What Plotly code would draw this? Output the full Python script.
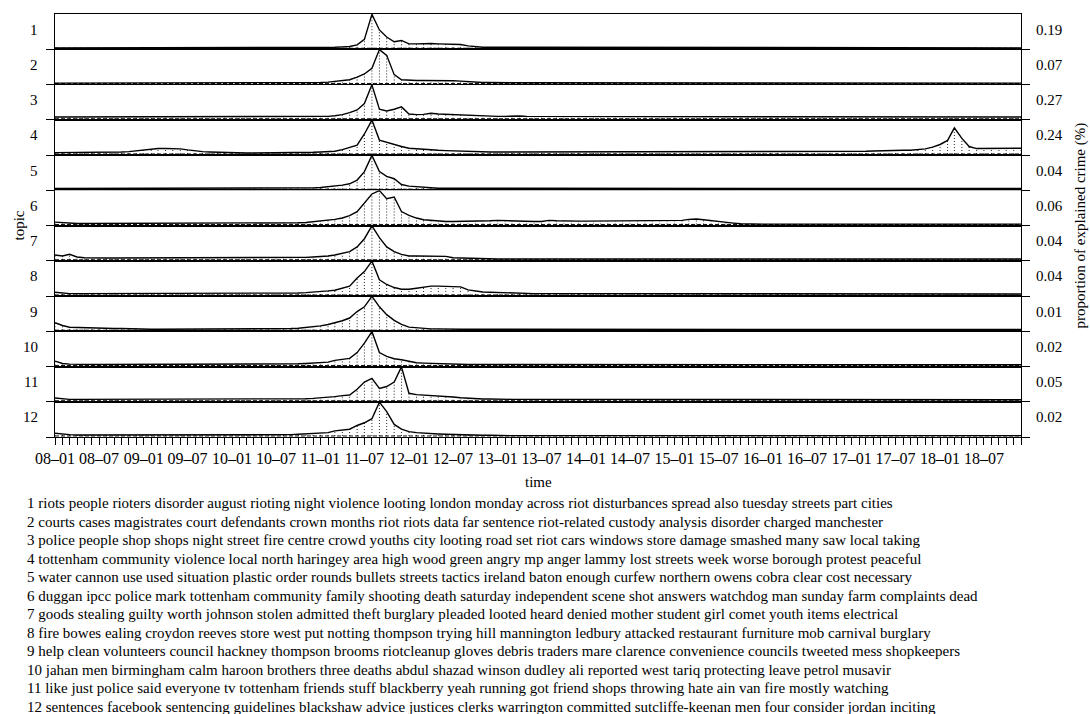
import plotly.graph_objects as go
from plotly.subplots import make_subplots

# ---------------- data ----------------
# monthly observations, Jan 2008 .. Dec 2018 (one row of 12 per year)
MONTHS = [f"{y}-{m:02d}-01" for y in range(2008, 2019) for m in range(1, 13)]

TICK_LABELS = ["08\u201301", "08\u201307", "09\u201301", "09\u201307", "10\u201301", "10\u201307",
               "11\u201301", "11\u201307", "12\u201301", "12\u201307", "13\u201301", "13\u201307",
               "14\u201301", "14\u201307", "15\u201301", "15\u201307", "16\u201301", "16\u201307",
               "17\u201301", "17\u201307", "18\u201301", "18\u201307"]
TICK_DATES = ["2008-01-01", "2008-07-01", "2009-01-01", "2009-07-01", "2010-01-01", "2010-07-01",
              "2011-01-01", "2011-07-01", "2012-01-01", "2012-07-01", "2013-01-01", "2013-07-01",
              "2014-01-01", "2014-07-01", "2015-01-01", "2015-07-01", "2016-01-01", "2016-07-01",
              "2017-01-01", "2017-07-01", "2018-01-01", "2018-07-01"]

TOPICS = ["1", "2", "3", "4", "5", "6", "7", "8", "9", "10", "11", "12"]
PROPORTIONS = ["0.19", "0.07", "0.27", "0.24", "0.04", "0.06", "0.04", "0.04", "0.01", "0.02", "0.05", "0.02"]

topic1 = [
    0.01, 0.01, 0.01, 0.01, 0.01, 0.01, 0.01, 0.01, 0.01, 0.01, 0.01, 0.01,
    0.01, 0.01, 0.01, 0.01, 0.01, 0.01, 0.01, 0.01, 0.01, 0.01, 0.01, 0.01,
    0.01, 0.01, 0.01, 0.01, 0.01, 0.01, 0.01, 0.01, 0.01, 0.02, 0.02, 0.02,
    0.03, 0.03, 0.03, 0.04, 0.05, 0.10, 0.26, 1.00, 0.54, 0.33, 0.19, 0.23,
    0.13, 0.13, 0.14, 0.14, 0.13, 0.12, 0.11, 0.11, 0.07, 0.04, 0.03, 0.03,
    0.03, 0.03, 0.03, 0.03, 0.03, 0.03, 0.03, 0.03, 0.02, 0.02, 0.02, 0.02,
    0.02, 0.02, 0.02, 0.02, 0.02, 0.02, 0.02, 0.02, 0.02, 0.02, 0.02, 0.02,
    0.02, 0.02, 0.02, 0.02, 0.02, 0.02, 0.02, 0.02, 0.02, 0.02, 0.02, 0.02,
    0.01, 0.01, 0.01, 0.01, 0.01, 0.01, 0.01, 0.01, 0.01, 0.01, 0.01, 0.01,
    0.01, 0.01, 0.01, 0.01, 0.01, 0.01, 0.01, 0.01, 0.01, 0.01, 0.01, 0.01,
    0.01, 0.01, 0.01, 0.01, 0.01, 0.01, 0.01, 0.01, 0.01, 0.01, 0.01, 0.01,
]
topic2 = [
    0.01, 0.01, 0.01, 0.01, 0.01, 0.01, 0.01, 0.01, 0.01, 0.01, 0.01, 0.01,
    0.01, 0.01, 0.01, 0.01, 0.01, 0.01, 0.01, 0.01, 0.01, 0.01, 0.01, 0.01,
    0.01, 0.01, 0.01, 0.01, 0.01, 0.01, 0.01, 0.01, 0.01, 0.01, 0.01, 0.02,
    0.03, 0.04, 0.06, 0.08, 0.11, 0.19, 0.28, 0.45, 1.00, 0.83, 0.26, 0.11,
    0.09, 0.09, 0.09, 0.09, 0.10, 0.09, 0.08, 0.07, 0.05, 0.04, 0.03, 0.03,
    0.02, 0.02, 0.02, 0.02, 0.02, 0.02, 0.02, 0.02, 0.02, 0.02, 0.02, 0.02,
    0.01, 0.01, 0.01, 0.01, 0.01, 0.01, 0.01, 0.01, 0.01, 0.01, 0.01, 0.01,
    0.01, 0.01, 0.01, 0.01, 0.01, 0.01, 0.01, 0.01, 0.01, 0.01, 0.01, 0.01,
    0.01, 0.01, 0.01, 0.01, 0.01, 0.01, 0.01, 0.01, 0.01, 0.01, 0.01, 0.01,
    0.01, 0.01, 0.01, 0.01, 0.01, 0.01, 0.01, 0.01, 0.01, 0.01, 0.01, 0.01,
    0.01, 0.01, 0.01, 0.01, 0.01, 0.01, 0.01, 0.01, 0.01, 0.01, 0.01, 0.01,
]
topic3 = [
    0.05, 0.05, 0.05, 0.05, 0.06, 0.06, 0.06, 0.05, 0.05, 0.05, 0.05, 0.05,
    0.05, 0.05, 0.05, 0.05, 0.05, 0.05, 0.05, 0.05, 0.05, 0.05, 0.05, 0.05,
    0.05, 0.05, 0.05, 0.05, 0.05, 0.05, 0.05, 0.05, 0.05, 0.05, 0.06, 0.06,
    0.06, 0.07, 0.09, 0.12, 0.18, 0.26, 0.45, 1.00, 0.28, 0.23, 0.28, 0.35,
    0.14, 0.12, 0.13, 0.16, 0.14, 0.13, 0.13, 0.11, 0.10, 0.08, 0.07, 0.07,
    0.07, 0.07, 0.08, 0.08, 0.07, 0.07, 0.07, 0.07, 0.06, 0.06, 0.06, 0.06,
    0.06, 0.06, 0.06, 0.06, 0.06, 0.07, 0.07, 0.07, 0.06, 0.06, 0.06, 0.06,
    0.06, 0.06, 0.06, 0.06, 0.06, 0.06, 0.06, 0.06, 0.06, 0.06, 0.06, 0.06,
    0.06, 0.06, 0.06, 0.06, 0.06, 0.06, 0.06, 0.06, 0.07, 0.07, 0.06, 0.06,
    0.06, 0.06, 0.06, 0.06, 0.06, 0.06, 0.06, 0.06, 0.06, 0.06, 0.06, 0.06,
    0.06, 0.06, 0.06, 0.06, 0.06, 0.06, 0.05, 0.05, 0.05, 0.05, 0.05, 0.05,
]
topic4 = [
    0.04, 0.04, 0.04, 0.04, 0.04, 0.04, 0.04, 0.04, 0.05, 0.06, 0.07, 0.09,
    0.12, 0.15, 0.16, 0.16, 0.16, 0.15, 0.12, 0.09, 0.07, 0.06, 0.05, 0.04,
    0.04, 0.03, 0.03, 0.03, 0.03, 0.03, 0.03, 0.03, 0.04, 0.04, 0.05, 0.05,
    0.06, 0.07, 0.08, 0.13, 0.19, 0.26, 0.59, 1.00, 0.41, 0.34, 0.29, 0.22,
    0.17, 0.15, 0.14, 0.12, 0.11, 0.10, 0.09, 0.08, 0.07, 0.06, 0.06, 0.06,
    0.06, 0.06, 0.06, 0.07, 0.07, 0.07, 0.07, 0.07, 0.06, 0.06, 0.06, 0.06,
    0.06, 0.06, 0.06, 0.06, 0.06, 0.06, 0.06, 0.06, 0.06, 0.06, 0.06, 0.06,
    0.06, 0.06, 0.06, 0.06, 0.06, 0.06, 0.06, 0.06, 0.07, 0.07, 0.07, 0.07,
    0.07, 0.07, 0.07, 0.07, 0.07, 0.07, 0.06, 0.06, 0.06, 0.06, 0.07, 0.07,
    0.07, 0.07, 0.08, 0.09, 0.10, 0.10, 0.10, 0.11, 0.11, 0.12, 0.15, 0.20,
    0.28, 0.40, 0.77, 0.46, 0.22, 0.16, 0.16, 0.16, 0.16, 0.16, 0.16, 0.17,
]
topic5 = [
    0.02, 0.02, 0.02, 0.02, 0.02, 0.02, 0.02, 0.02, 0.02, 0.02, 0.02, 0.02,
    0.02, 0.02, 0.02, 0.02, 0.02, 0.02, 0.02, 0.02, 0.02, 0.02, 0.02, 0.02,
    0.02, 0.02, 0.02, 0.02, 0.02, 0.02, 0.02, 0.02, 0.02, 0.02, 0.03, 0.04,
    0.05, 0.07, 0.09, 0.12, 0.16, 0.27, 0.52, 1.00, 0.52, 0.38, 0.31, 0.14,
    0.09, 0.07, 0.05, 0.04, 0.03, 0.03, 0.03, 0.03, 0.03, 0.02, 0.02, 0.02,
    0.02, 0.02, 0.02, 0.02, 0.02, 0.02, 0.02, 0.02, 0.02, 0.02, 0.02, 0.02,
    0.02, 0.02, 0.02, 0.02, 0.02, 0.02, 0.02, 0.02, 0.02, 0.02, 0.02, 0.02,
    0.02, 0.02, 0.02, 0.02, 0.02, 0.02, 0.02, 0.02, 0.02, 0.02, 0.02, 0.02,
    0.02, 0.02, 0.02, 0.02, 0.02, 0.02, 0.02, 0.02, 0.02, 0.02, 0.02, 0.02,
    0.02, 0.02, 0.02, 0.02, 0.02, 0.02, 0.02, 0.02, 0.02, 0.02, 0.02, 0.02,
    0.02, 0.02, 0.02, 0.02, 0.02, 0.02, 0.02, 0.02, 0.02, 0.02, 0.02, 0.02,
]
topic6 = [
    0.07, 0.05, 0.04, 0.03, 0.03, 0.03, 0.03, 0.03, 0.03, 0.03, 0.03, 0.03,
    0.03, 0.03, 0.03, 0.03, 0.03, 0.03, 0.03, 0.03, 0.03, 0.03, 0.03, 0.03,
    0.03, 0.03, 0.03, 0.03, 0.03, 0.03, 0.03, 0.03, 0.04, 0.05, 0.06, 0.08,
    0.10, 0.12, 0.15, 0.19, 0.26, 0.38, 0.62, 0.90, 1.00, 0.76, 0.81, 0.38,
    0.27, 0.19, 0.14, 0.12, 0.10, 0.09, 0.09, 0.09, 0.09, 0.10, 0.10, 0.11,
    0.12, 0.11, 0.10, 0.09, 0.09, 0.09, 0.09, 0.12, 0.11, 0.10, 0.10, 0.10,
    0.10, 0.10, 0.10, 0.10, 0.10, 0.10, 0.10, 0.10, 0.10, 0.10, 0.10, 0.10,
    0.10, 0.12, 0.15, 0.16, 0.14, 0.11, 0.09, 0.06, 0.04, 0.02, 0.01, 0.01,
    0.01, 0.01, 0.01, 0.01, 0.01, 0.01, 0.01, 0.01, 0.01, 0.01, 0.01, 0.01,
    0.01, 0.01, 0.01, 0.01, 0.01, 0.01, 0.01, 0.01, 0.01, 0.01, 0.01, 0.01,
    0.01, 0.01, 0.01, 0.01, 0.01, 0.01, 0.01, 0.01, 0.01, 0.01, 0.01, 0.01,
]
topic7 = [
    0.14, 0.11, 0.16, 0.08, 0.06, 0.05, 0.05, 0.05, 0.05, 0.05, 0.05, 0.05,
    0.05, 0.05, 0.05, 0.05, 0.05, 0.05, 0.05, 0.05, 0.05, 0.05, 0.05, 0.05,
    0.05, 0.05, 0.05, 0.05, 0.05, 0.05, 0.05, 0.05, 0.05, 0.06, 0.07, 0.08,
    0.09, 0.11, 0.14, 0.18, 0.24, 0.38, 0.62, 1.00, 0.65, 0.38, 0.24, 0.16,
    0.11, 0.11, 0.11, 0.11, 0.10, 0.10, 0.06, 0.05, 0.04, 0.03, 0.03, 0.03,
    0.02, 0.02, 0.02, 0.02, 0.02, 0.02, 0.02, 0.02, 0.02, 0.02, 0.02, 0.02,
    0.02, 0.02, 0.02, 0.02, 0.02, 0.02, 0.02, 0.02, 0.02, 0.02, 0.02, 0.02,
    0.02, 0.02, 0.02, 0.02, 0.02, 0.02, 0.02, 0.02, 0.02, 0.02, 0.02, 0.02,
    0.02, 0.02, 0.02, 0.02, 0.02, 0.02, 0.02, 0.02, 0.02, 0.02, 0.02, 0.02,
    0.02, 0.02, 0.02, 0.02, 0.02, 0.02, 0.02, 0.02, 0.02, 0.02, 0.02, 0.02,
    0.02, 0.02, 0.02, 0.02, 0.02, 0.02, 0.02, 0.02, 0.02, 0.02, 0.02, 0.02,
]
topic8 = [
    0.08, 0.05, 0.04, 0.04, 0.04, 0.04, 0.04, 0.04, 0.04, 0.04, 0.04, 0.04,
    0.04, 0.04, 0.04, 0.04, 0.04, 0.04, 0.04, 0.04, 0.04, 0.04, 0.04, 0.04,
    0.04, 0.04, 0.04, 0.04, 0.04, 0.04, 0.04, 0.05, 0.05, 0.06, 0.07, 0.08,
    0.09, 0.12, 0.14, 0.19, 0.26, 0.50, 0.69, 1.00, 0.45, 0.31, 0.22, 0.17,
    0.17, 0.20, 0.24, 0.26, 0.26, 0.26, 0.24, 0.24, 0.15, 0.11, 0.09, 0.08,
    0.07, 0.06, 0.05, 0.05, 0.05, 0.04, 0.04, 0.04, 0.04, 0.04, 0.04, 0.04,
    0.03, 0.03, 0.03, 0.03, 0.03, 0.03, 0.03, 0.03, 0.03, 0.03, 0.03, 0.03,
    0.03, 0.03, 0.03, 0.03, 0.03, 0.03, 0.03, 0.03, 0.03, 0.03, 0.03, 0.03,
    0.03, 0.03, 0.03, 0.03, 0.03, 0.03, 0.03, 0.03, 0.03, 0.03, 0.03, 0.03,
    0.03, 0.03, 0.03, 0.03, 0.03, 0.03, 0.03, 0.03, 0.03, 0.03, 0.03, 0.03,
    0.03, 0.03, 0.03, 0.03, 0.03, 0.03, 0.03, 0.03, 0.03, 0.03, 0.03, 0.03,
]
topic9 = [
    0.22, 0.14, 0.09, 0.08, 0.07, 0.06, 0.06, 0.05, 0.05, 0.05, 0.04, 0.04,
    0.04, 0.03, 0.03, 0.03, 0.03, 0.03, 0.03, 0.03, 0.03, 0.03, 0.03, 0.03,
    0.03, 0.03, 0.03, 0.03, 0.03, 0.03, 0.03, 0.04, 0.05, 0.06, 0.08, 0.10,
    0.13, 0.17, 0.22, 0.28, 0.36, 0.55, 0.69, 1.00, 0.69, 0.46, 0.29, 0.17,
    0.09, 0.07, 0.05, 0.04, 0.04, 0.03, 0.03, 0.03, 0.03, 0.03, 0.03, 0.03,
    0.02, 0.02, 0.02, 0.02, 0.02, 0.02, 0.02, 0.02, 0.02, 0.02, 0.02, 0.02,
    0.02, 0.02, 0.02, 0.02, 0.02, 0.02, 0.02, 0.02, 0.02, 0.02, 0.02, 0.02,
    0.02, 0.02, 0.02, 0.02, 0.02, 0.02, 0.02, 0.02, 0.02, 0.02, 0.02, 0.02,
    0.02, 0.02, 0.02, 0.02, 0.02, 0.02, 0.02, 0.02, 0.02, 0.02, 0.02, 0.02,
    0.02, 0.02, 0.02, 0.02, 0.02, 0.02, 0.02, 0.02, 0.02, 0.02, 0.02, 0.02,
    0.02, 0.02, 0.02, 0.02, 0.02, 0.02, 0.02, 0.02, 0.02, 0.02, 0.02, 0.02,
]
topic10 = [
    0.13, 0.06, 0.04, 0.03, 0.03, 0.03, 0.03, 0.03, 0.03, 0.03, 0.03, 0.03,
    0.03, 0.03, 0.03, 0.03, 0.03, 0.03, 0.03, 0.03, 0.03, 0.03, 0.03, 0.03,
    0.03, 0.03, 0.03, 0.03, 0.03, 0.03, 0.03, 0.04, 0.04, 0.05, 0.06, 0.08,
    0.09, 0.10, 0.15, 0.18, 0.21, 0.38, 0.66, 1.00, 0.38, 0.27, 0.20, 0.17,
    0.12, 0.08, 0.07, 0.06, 0.05, 0.04, 0.04, 0.04, 0.03, 0.03, 0.03, 0.03,
    0.02, 0.02, 0.02, 0.02, 0.02, 0.02, 0.02, 0.02, 0.02, 0.02, 0.02, 0.02,
    0.02, 0.02, 0.02, 0.02, 0.02, 0.02, 0.02, 0.02, 0.02, 0.02, 0.02, 0.02,
    0.02, 0.02, 0.02, 0.02, 0.02, 0.02, 0.02, 0.02, 0.02, 0.02, 0.02, 0.02,
    0.02, 0.02, 0.02, 0.02, 0.02, 0.02, 0.02, 0.02, 0.02, 0.02, 0.02, 0.02,
    0.02, 0.02, 0.02, 0.02, 0.02, 0.02, 0.02, 0.02, 0.02, 0.02, 0.02, 0.02,
    0.02, 0.02, 0.02, 0.02, 0.02, 0.02, 0.02, 0.02, 0.02, 0.02, 0.02, 0.02,
]
topic11 = [
    0.08, 0.05, 0.04, 0.04, 0.04, 0.04, 0.04, 0.04, 0.04, 0.04, 0.04, 0.04,
    0.04, 0.04, 0.04, 0.04, 0.04, 0.04, 0.04, 0.04, 0.04, 0.04, 0.04, 0.04,
    0.04, 0.04, 0.04, 0.04, 0.04, 0.04, 0.04, 0.05, 0.05, 0.06, 0.06, 0.07,
    0.08, 0.09, 0.12, 0.15, 0.17, 0.34, 0.55, 0.66, 0.36, 0.42, 0.55, 1.00,
    0.22, 0.18, 0.17, 0.15, 0.14, 0.13, 0.11, 0.09, 0.07, 0.06, 0.05, 0.05,
    0.04, 0.04, 0.04, 0.04, 0.04, 0.04, 0.04, 0.04, 0.04, 0.04, 0.04, 0.04,
    0.03, 0.03, 0.03, 0.03, 0.03, 0.03, 0.03, 0.03, 0.03, 0.03, 0.03, 0.03,
    0.03, 0.03, 0.03, 0.03, 0.03, 0.03, 0.03, 0.03, 0.03, 0.03, 0.03, 0.03,
    0.03, 0.03, 0.03, 0.03, 0.03, 0.03, 0.03, 0.03, 0.03, 0.03, 0.03, 0.03,
    0.03, 0.03, 0.03, 0.03, 0.03, 0.03, 0.03, 0.03, 0.03, 0.03, 0.03, 0.03,
    0.03, 0.03, 0.03, 0.03, 0.03, 0.03, 0.03, 0.03, 0.03, 0.03, 0.03, 0.03,
]
topic12 = [
    0.08, 0.05, 0.04, 0.03, 0.03, 0.02, 0.02, 0.02, 0.02, 0.02, 0.02, 0.02,
    0.02, 0.02, 0.02, 0.02, 0.02, 0.02, 0.02, 0.02, 0.02, 0.02, 0.02, 0.02,
    0.02, 0.02, 0.02, 0.02, 0.02, 0.02, 0.02, 0.03, 0.04, 0.05, 0.06, 0.08,
    0.09, 0.10, 0.15, 0.17, 0.20, 0.31, 0.39, 0.51, 1.00, 0.72, 0.34, 0.20,
    0.13, 0.10, 0.08, 0.07, 0.06, 0.05, 0.04, 0.04, 0.03, 0.02, 0.02, 0.02,
    0.01, 0.01, 0.01, 0.01, 0.01, 0.01, 0.01, 0.01, 0.01, 0.01, 0.01, 0.01,
    0.01, 0.01, 0.01, 0.01, 0.01, 0.01, 0.01, 0.01, 0.01, 0.01, 0.01, 0.01,
    0.01, 0.01, 0.01, 0.01, 0.01, 0.01, 0.01, 0.01, 0.01, 0.01, 0.01, 0.01,
    0.01, 0.01, 0.01, 0.01, 0.01, 0.01, 0.01, 0.01, 0.01, 0.01, 0.01, 0.01,
    0.01, 0.01, 0.01, 0.01, 0.01, 0.01, 0.01, 0.01, 0.01, 0.01, 0.01, 0.01,
    0.01, 0.01, 0.01, 0.01, 0.01, 0.01, 0.01, 0.01, 0.01, 0.01, 0.01, 0.01,
]
SERIES = [topic1, topic2, topic3, topic4, topic5, topic6,
          topic7, topic8, topic9, topic10, topic11, topic12]

TOPIC_WORDS = [
    "1 riots people rioters disorder august rioting night violence looting london monday across riot disturbances spread also tuesday streets part cities",
    "2 courts cases magistrates court defendants crown months riot riots data far sentence riot-related custody analysis disorder charged manchester",
    "3 police people shop shops night street fire centre crowd youths city looting road set riot cars windows store damage smashed many saw local taking",
    "4 tottenham community violence local north haringey area high wood green angry mp anger lammy lost streets week worse borough protest peaceful",
    "5 water cannon use used situation plastic order rounds bullets streets tactics ireland baton enough curfew northern owens cobra clear cost necessary",
    "6 duggan ipcc police mark tottenham community family shooting death saturday independent scene shot answers watchdog man sunday farm complaints dead",
    "7 goods stealing guilty worth johnson stolen admitted theft burglary pleaded looted heard denied mother student girl comet youth items electrical",
    "8 fire bowes ealing croydon reeves store west put notting thompson trying hill mannington ledbury attacked restaurant furniture mob carnival burglary",
    "9 help clean volunteers council hackney thompson brooms riotcleanup gloves debris traders mare clarence convenience councils tweeted mess shopkeepers",
    "10 jahan men birmingham calm haroon brothers three deaths abdul shazad winson dudley ali reported west tariq protecting leave petrol musavir",
    "11 like just police said everyone tv tottenham friends stuff blackberry yeah running got friend shops throwing hate ain van fire mostly watching",
    "12 sentences facebook sentencing guidelines blackshaw advice justices clerks warrington committed sutcliffe-keenan men four consider jordan inciting",
]

# ---------------- figure ----------------
FONT = "Liberation Serif"
W, H = 1090, 714
ML, MR, MT, MB = 55, 69, 14, 277
YMIN, YMAX = -0.03, 1.01
N = len(SERIES)

fig = make_subplots(rows=N, cols=1, shared_xaxes=True, vertical_spacing=0)

for k, vals in enumerate(SERIES):
    r = k + 1
    sx, sy = [], []
    for d, v in zip(MONTHS, vals):
        sx += [d, d, None]
        sy += [0, v, None]
    fig.add_trace(go.Scatter(x=sx, y=sy, mode="lines",
                             line=dict(color="#222222", width=1, dash="1px,2px"),
                             hoverinfo="skip", showlegend=False), row=r, col=1)
    fig.add_trace(go.Scatter(x=[MONTHS[0], MONTHS[-1]], y=[0, 0], mode="lines",
                             line=dict(color="#111111", width=1, dash="4px,2px"),
                             hoverinfo="skip", showlegend=False), row=r, col=1)
    fig.add_trace(go.Scatter(x=MONTHS, y=vals, mode="lines",
                             line=dict(color="black", width=1.4),
                             showlegend=False), row=r, col=1)
    fig.update_yaxes(range=[YMIN, YMAX], showline=True, linecolor="black", linewidth=1,
                     mirror="ticks", ticks="outside", ticklen=8, tickcolor="black",
                     tickwidth=1, tickvals=[YMIN], showticklabels=False,
                     showgrid=False, zeroline=False, row=r, col=1)
    fig.update_xaxes(range=[MONTHS[0], MONTHS[-1]], showline=True, linecolor="black",
                     linewidth=1, mirror=True, showgrid=False, zeroline=False,
                     row=r, col=1)

# bottom axis: monthly ticks, labels every six months
tick_text = [TICK_LABELS[TICK_DATES.index(d)] if d in TICK_DATES else "" for d in MONTHS]
fig.update_xaxes(ticks="outside", ticklen=7, tickwidth=1, tickcolor="black",
                 tickvals=MONTHS, ticktext=tick_text, tickangle=0,
                 showticklabels=True, tickfont=dict(family=FONT, size=16, color="black"),
                 row=N, col=1)

annotations = []
for k in range(N):
    dom = fig.layout[f"yaxis{'' if k == 0 else k + 1}"].domain
    yc = (dom[0] + dom[1]) / 2
    annotations.append(dict(x=0, y=yc, xref="paper", yref="paper", xanchor="right",
                            yanchor="middle", xshift=-15, yshift=2, showarrow=False,
                            text=TOPICS[k], font=dict(family=FONT, size=15, color="black")))
    annotations.append(dict(x=1, y=yc, xref="paper", yref="paper", xanchor="left",
                            yanchor="middle", xshift=13, yshift=2, showarrow=False,
                            text=PROPORTIONS[k], font=dict(family=FONT, size=15, color="black")))

annotations.append(dict(x=0, y=0.5, xref="paper", yref="paper", xanchor="center",
                        yanchor="middle", xshift=-37, showarrow=False, textangle=-90,
                        text="topic", font=dict(family=FONT, size=15, color="black")))
annotations.append(dict(x=1, y=0.5, xref="paper", yref="paper", xanchor="center",
                        yanchor="middle", xshift=59, showarrow=False, textangle=-90,
                        text="proportion of explained crime (%)",
                        font=dict(family=FONT, size=15, color="black")))
annotations.append(dict(x=0.5, y=0, xref="paper", yref="paper", xanchor="center",
                        yanchor="middle", yshift=-(482 - (H - MB)), showarrow=False,
                        text="time", font=dict(family=FONT, size=15, color="black")))
for k, line in enumerate(TOPIC_WORDS):
    py = 503 + 18.5 * k
    annotations.append(dict(x=0, y=0, xref="paper", yref="paper", xanchor="left",
                            yanchor="middle", xshift=25 - ML, yshift=-(py - (H - MB)),
                            showarrow=False, text=line,
                            font=dict(family=FONT, size=15, color="black")))

fig.update_layout(width=W, height=H, margin=dict(l=ML, r=MR, t=MT, b=MB),
                  plot_bgcolor="white", paper_bgcolor="white",
                  font=dict(family=FONT, size=15, color="black"),
                  showlegend=False, annotations=annotations, hovermode=False)

fig.write_html("out.html", config={"displayModeBar": False},
               post_script="document.body.style.margin='0';")
